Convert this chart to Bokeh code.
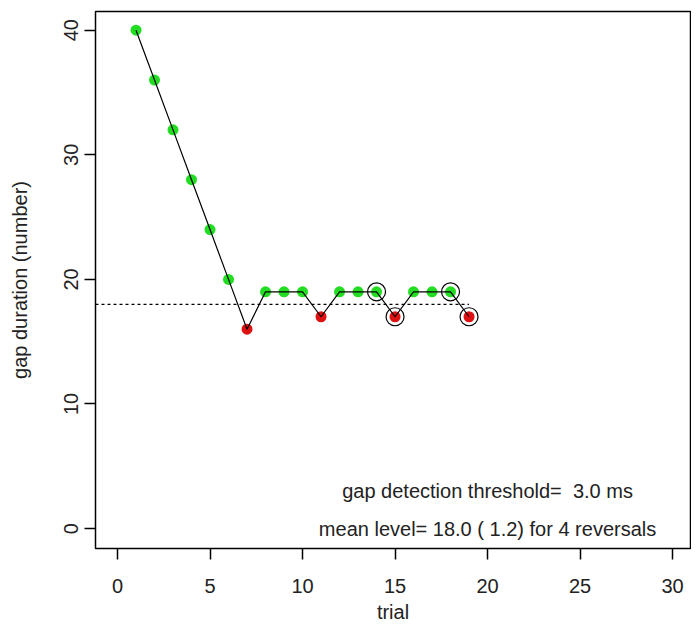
from bokeh.plotting import figure
from bokeh.models import Range1d, FixedTicker, ColumnDataSource
from bokeh.core.properties import value
from bokeh.embed import file_html
from bokeh.resources import INLINE

# ---- data ----
trials = list(range(1, 20))
levels = [40, 36, 32, 28, 24, 20, 16, 19, 19, 19, 17, 19, 19, 19, 17, 19, 19, 19, 17]
responses = ["g", "g", "g", "g", "g", "g", "r", "g", "g", "g", "r", "g", "g", "g", "r", "g", "g", "g", "r"]
reversal_trials = [14, 15, 18, 19]
mean_level = 18.0
x_ticks = [0, 5, 10, 15, 20, 25, 30]
y_ticks = [0, 10, 20, 30, 40]
annot_lines = ["gap detection threshold=\u00a0 3.0 ms",
               "mean level= 18.0 ( 1.2) for 4 reversals"]
annot_x = [20, 20]
annot_y = [3, 0]

FONT = "Liberation Sans"
FS = "20px"
GREEN = "#22dd22"
RED = "#dd1111"

colors = [GREEN if r == "g" else RED for r in responses]
rev_levels = [levels[trials.index(t)] for t in reversal_trials]

p = figure(width=691, height=629, output_backend="svg", toolbar_location=None,
           x_range=Range1d(-1.19, 30.97), y_range=Range1d(-1.6, 41.5),
           min_border_left=95, min_border_right=1, min_border_top=11, min_border_bottom=81,
           background_fill_color="white", border_fill_color="white")
p.grid.visible = False
p.outline_line_color = "black"
p.outline_line_width = 1.5

for ax in (p.xaxis[0], p.yaxis[0]):
    ax.axis_line_color = None
    ax.major_tick_in = 0
    ax.major_tick_out = 11
    ax.major_tick_line_color = "black"
    ax.major_tick_line_width = 1.5
    ax.minor_tick_line_color = None
    ax.major_label_text_font = FONT
    ax.major_label_text_font_size = FS
    ax.major_label_text_color = "#222222"
    ax.axis_label_text_font = FONT
    ax.axis_label_text_font_size = FS
    ax.axis_label_text_font_style = "normal"
    ax.axis_label_text_color = "#222222"

p.xaxis.ticker = FixedTicker(ticks=x_ticks)
p.yaxis.ticker = FixedTicker(ticks=y_ticks)
p.xaxis.axis_label = "trial"
p.yaxis.axis_label = "gap duration (number)"
p.yaxis.major_label_orientation = "vertical"
p.xaxis.major_label_standoff = 19
p.yaxis.major_label_standoff = 6
p.xaxis.axis_label_standoff = 5
p.yaxis.axis_label_standoff = 31

# dotted mean level
p.line(x=[-1.19, trials[-1]], y=[mean_level, mean_level], line_color="black",
       line_width=1.2, line_dash="3 3")

src = ColumnDataSource(dict(x=trials, y=levels, c=colors))
p.scatter(x="x", y="y", source=src, size=11, fill_color="c", line_color="c", line_width=0)
p.line(x="x", y="y", source=src, line_color="black", line_width=1.2)
p.scatter(x=reversal_trials, y=rev_levels, size=18, fill_color=None,
          line_color="black", line_width=1.2)

p.text(x=annot_x, y=annot_y, text=annot_lines, text_align="center", text_baseline="middle",
       text_font=value(FONT), text_font_size=FS, text_color="#222222")

open("out.html", "w").write(file_html(p, INLINE))
